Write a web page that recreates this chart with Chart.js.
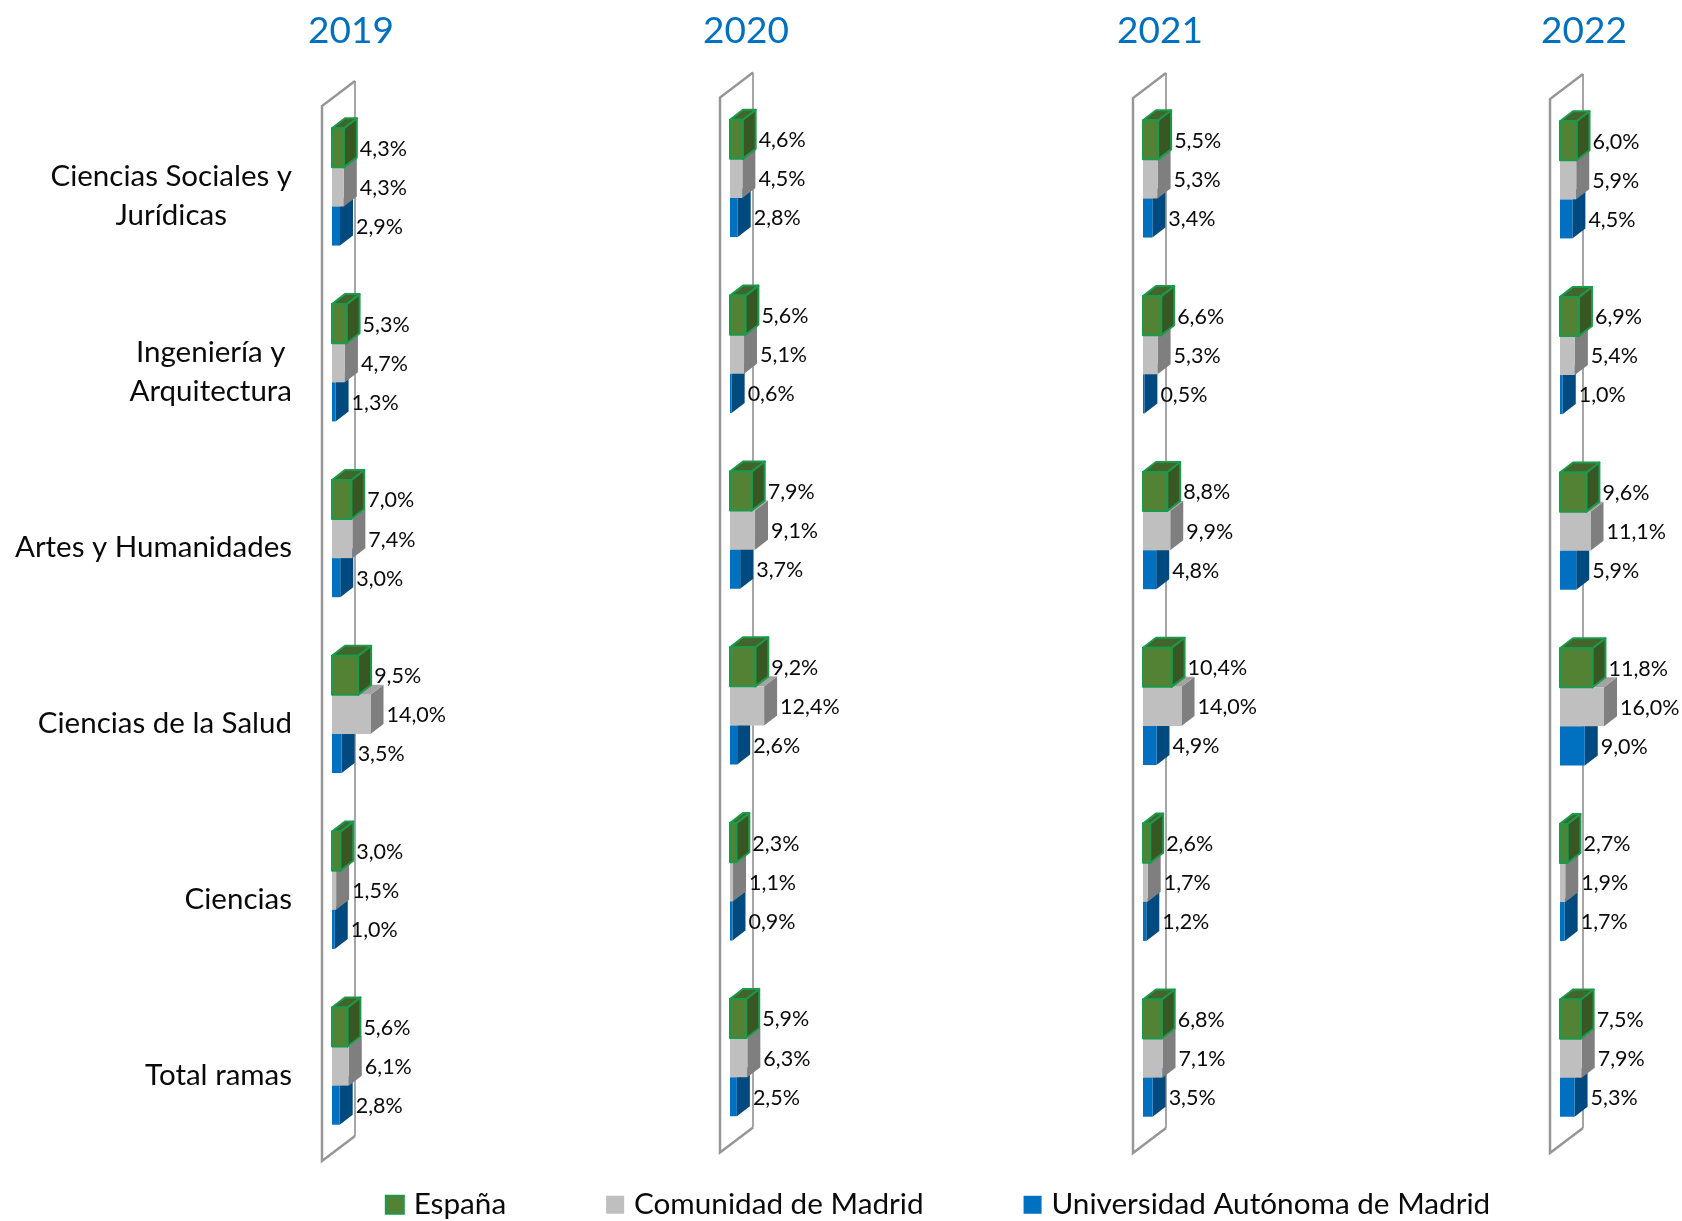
<!DOCTYPE html>
<html lang="es"><head><meta charset="utf-8">
<style>html,body{margin:0;padding:0;background:#fff;width:1682px;height:1221px;overflow:hidden}canvas{position:absolute}</style>
<script src="https://cdn.jsdelivr.net/npm/chart.js@4"></script></head><body>
<script>
const categories=[["Ciencias Sociales y","Jurídicas"],["Ingeniería y","Arquitectura"],["Artes y Humanidades"],["Ciencias de la Salud"],["Ciencias"],["Total ramas"]];
const seriesNames=["España","Comunidad de Madrid","Universidad Autónoma de Madrid"];
const espana2019=[4.3,5.3,7.0,9.5,3.0,5.6];
const madrid2019=[4.3,4.7,7.4,14.0,1.5,6.1];
const uam2019=[2.9,1.3,3.0,3.5,1.0,2.8];
const espana2020=[4.6,5.6,7.9,9.2,2.3,5.9];
const madrid2020=[4.5,5.1,9.1,12.4,1.1,6.3];
const uam2020=[2.8,0.6,3.7,2.6,0.9,2.5];
const espana2021=[5.5,6.6,8.8,10.4,2.6,6.8];
const madrid2021=[5.3,5.3,9.9,14.0,1.7,7.1];
const uam2021=[3.4,0.5,4.8,4.9,1.2,3.5];
const espana2022=[6.0,6.9,9.6,11.8,2.7,7.5];
const madrid2022=[5.9,5.4,11.1,16.0,1.9,7.9];
const uam2022=[4.5,1.0,5.9,9.0,1.7,5.3];

const FONT='Lato, sans-serif';
const TEXT='#0a0a0a';
const styles=[
 {fill:'#548235',side:'#385723',top:'#41652a',border:'#1b9a4c',bw:2},
 {fill:'#bfbfbf',side:'#7f7f7f',top:'#a3a3a3',border:'#bfbfbf',bw:0},
 {fill:'#0070c0',side:'#014a80',top:'#015a9a',border:'#0070c0',bw:0}];
const DX=13,DY=-10,WALLDX=33,WALLDY=-25,FRONTX=-10,FRONTY=7;

const depthPlugin={id:'depth',
 afterLayout(chart){ if(chart.titleBlock){chart.titleBlock.left=0;chart.titleBlock.right=chart.width;} },
 beforeDatasetDraw(chart,args){
  const s=styles[args.index],c=chart.ctx;
  chart.getDatasetMeta(args.index).data.forEach(el=>{
   const r=el.x,t=el.y-el.height/2,b=el.y+el.height/2,l=el.base;
   c.save();c.lineJoin='round';
   c.fillStyle=s.side;c.beginPath();c.moveTo(r,t);c.lineTo(r+DX,t+DY);c.lineTo(r+DX,b+DY);c.lineTo(r,b);c.closePath();c.fill();
   if(s.bw){c.strokeStyle=s.border;c.lineWidth=s.bw;c.stroke();}
   c.fillStyle=s.top;c.beginPath();c.moveTo(l,t);c.lineTo(l+DX,t+DY);c.lineTo(r+DX,t+DY);c.lineTo(r,t);c.closePath();c.fill();
   if(s.bw){c.stroke();}
   c.restore();
  });
 },
 afterDatasetDraw(chart,args){
  const s=styles[args.index],c=chart.ctx;
  if(!s.bw)return;
  chart.getDatasetMeta(args.index).data.forEach(el=>{
   c.save();c.strokeStyle=s.border;c.lineWidth=s.bw;c.lineJoin='round';
   c.strokeRect(el.base,el.y-el.height/2,el.x-el.base,el.height);c.restore();
  });
 },
 beforeDatasetsDraw(chart){
  const a=chart.chartArea,c=chart.ctx,x0=a.left+FRONTX,y0=a.top+FRONTY,y1=a.bottom+FRONTY;
  c.save();c.strokeStyle='#a6a6a6';c.lineWidth=2;c.beginPath();
  c.moveTo(x0+WALLDX,y1+WALLDY);c.lineTo(x0+WALLDX,y0+WALLDY);c.stroke();
  c.strokeStyle='#969696';c.lineWidth=2.5;c.beginPath();
  c.moveTo(x0+WALLDX,y0+WALLDY);c.lineTo(x0,y0);c.lineTo(x0,y1);c.lineTo(x0+WALLDX,y1+WALLDY);c.stroke();
  c.restore();
 },
 afterDatasetsDraw(chart){
  const c=chart.ctx;
  c.save();c.font='21.5px '+FONT;c.fillStyle=TEXT;c.textAlign='left';c.textBaseline='middle';
  chart.data.datasets.forEach((ds,i)=>{
   chart.getDatasetMeta(i).data.forEach((el,j)=>{
    c.fillText(ds.data[j].toFixed(1).replace('.',',')+'%',el.x+DX+3,el.y+1);
   });
  });
  c.restore();
 }};
const categoryLabels={id:'categoryLabels',
 afterDraw(chart,args,opts){
  if(!opts.show)return;
  const c=chart.ctx,yS=chart.scales.y;
  c.save();c.font='29.5px '+FONT;c.fillStyle=TEXT;c.textAlign='center';c.textBaseline='middle';
  categories.forEach((lines,i)=>{
   const w=Math.max(...lines.map(t=>c.measureText(t).width)),cx=opts.right-w/2,yc=yS.getPixelForTick(i)+FRONTY+2,lh=39;
   lines.forEach((t,k)=>c.fillText(t,cx,yc+(k-(lines.length-1)/2)*lh));
  });
  c.restore();
 }};

function makeCanvas(l,t,w,h){const e=document.createElement('canvas');e.width=w;e.height=h;e.style.left=l+'px';e.style.top=t+'px';e.style.width=w+'px';e.style.height=h+'px';document.body.appendChild(e);return e;}
function yearChart(year,vals,titleX,half,areaLeft,areaTop,areaH,showCats){
 const left=titleX-half,w=half*2,pxPerUnit=2.75,maxX=20;
 const ds=vals.map((d,i)=>({label:seriesNames[i],data:d,backgroundColor:styles[i].fill,borderWidth:0,barPercentage:1,categoryPercentage:0.667}));
 new Chart(makeCanvas(left,0,w,1221),{type:'bar',
  data:{labels:categories,datasets:ds},
  plugins:[depthPlugin,categoryLabels],
  options:{indexAxis:'y',responsive:false,animation:false,devicePixelRatio:1,events:[],
   layout:{padding:{left:areaLeft-left,right:w-(areaLeft-left)-maxX*pxPerUnit,top:9,bottom:1221-areaTop-areaH}},
   scales:{x:{display:false,min:0,max:maxX},y:{display:false}},
   plugins:{legend:{display:false},tooltip:{enabled:false},
    title:{display:true,text:year,color:'#0070c0',font:{family:FONT,size:37,weight:'normal'},padding:{top:0,bottom:areaTop-9-44.4}},
    categoryLabels:{show:showCats,right:292}}}});
}
yearChart('2019',[espana2019,madrid2019,uam2019],351,351,332,99,1055,true);
yearChart('2020',[espana2020,madrid2020,uam2020],746,110,730,90.5,1055,false);
yearChart('2021',[espana2021,madrid2021,uam2021],1160,110,1143,91,1055,false);
yearChart('2022',[espana2022,madrid2022,uam2022],1584,98,1560,92,1054,false);

new Chart(makeCanvas(195,1085,1491,300),{type:'bar',
 data:{labels:[],datasets:seriesNames.map((n,i)=>({label:n,data:[],backgroundColor:styles[i].fill,borderColor:styles[i].border,borderWidth:styles[i].bw}))},
 options:{responsive:false,animation:false,devicePixelRatio:1,events:[],scales:{x:{display:false},y:{display:false}},
  plugins:{tooltip:{enabled:false},legend:{position:'top',labels:{usePointStyle:true,pointStyle:'rect',boxWidth:8,boxHeight:18,padding:105,color:TEXT,font:{family:FONT,size:29.7}}}}}});
</script></body></html>
